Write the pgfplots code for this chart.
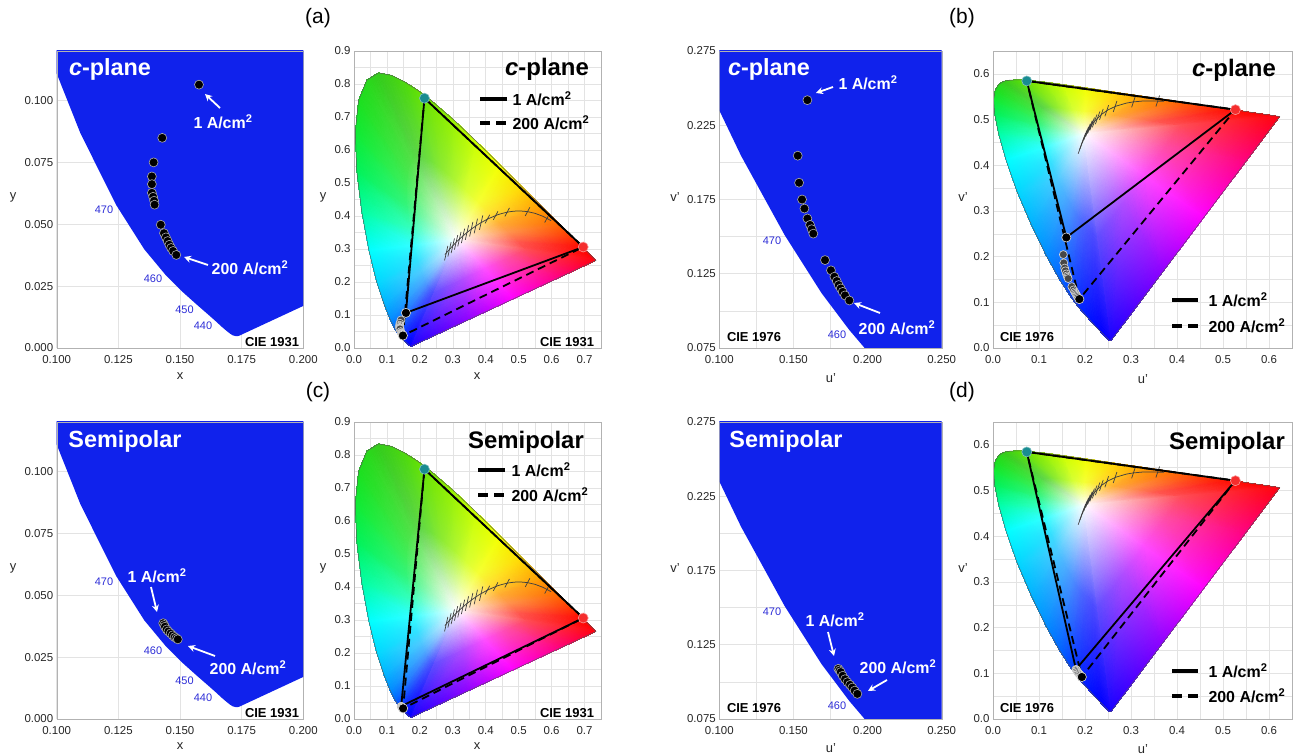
\documentclass[border=0pt]{standalone}
\usepackage{fontspec}
\setmainfont{Liberation Sans}
\usepackage{pgfplots}
\pgfplotsset{compat=1.18}
\usepackage{pgfplotstable}
\usetikzlibrary{arrows.meta}

\newcommand{\fsz}[1]{\fontsize{#1}{#1}\selectfont}
\definecolor{zblue}{RGB}{16,34,236}
\definecolor{tealG}{RGB}{25,140,145}
\definecolor{redR}{RGB}{245,45,45}
\definecolor{wlblue}{RGB}{45,45,215}

% ---------- gamut vertices (CIE 1931 xy): white point, spectral locus + purple line, inner ring
\pgfplotstableread{
x y c
0.3127 0.3290 rgb=1,1,1
0.1741 0.0050 rgb=0.1,0,1
0.1714 0.0051 rgb=0.05,0,1
0.1644 0.0109 rgb=0,0,1
0.1566 0.0177 rgb=0,0.05,1
0.1440 0.0297 rgb=0,0.15,1
0.1355 0.0399 rgb=0,0.25,1
0.1241 0.0578 rgb=0,0.4,1
0.1096 0.0868 rgb=0,0.55,1
0.0913 0.1327 rgb=0,0.7,1
0.0687 0.2007 rgb=0,0.85,1
0.0454 0.2950 rgb=0,1,1
0.0235 0.4127 rgb=0,1,0.65
0.0082 0.5384 rgb=0,0.95,0.35
0.0039 0.6548 rgb=0.05,0.92,0.2
0.0139 0.7502 rgb=0.1,0.88,0.12
0.0389 0.8120 rgb=0.15,0.85,0.1
0.0743 0.8338 rgb=0.2,0.8,0.1
0.1142 0.8262 rgb=0.25,0.82,0.08
0.1547 0.8059 rgb=0.3,0.85,0.05
0.1929 0.7816 rgb=0.38,0.88,0.02
0.2296 0.7543 rgb=0.45,0.9,0
0.3016 0.6923 rgb=0.6,0.95,0
0.3731 0.6245 rgb=0.8,1,0
0.4441 0.5547 rgb=0.95,1,0
0.5125 0.4866 rgb=1,0.85,0
0.5752 0.4242 rgb=1,0.6,0
0.6270 0.3725 rgb=1,0.4,0
0.6658 0.3340 rgb=1,0.2,0
0.6915 0.3083 rgb=1,0.05,0
0.7190 0.2809 rgb=1,0,0
0.7347 0.2653 rgb=1,0,0.05
0.6226 0.2132 rgb=1,0,0.5
0.4824 0.1482 rgb=1,0,1
0.3423 0.0831 rgb=0.55,0,1
0.2434 0.1670 rgb=0.37,0.3,1
0.2421 0.1671 rgb=0.335,0.3,1
0.2386 0.1700 rgb=0.3,0.3,1
0.2347 0.1734 rgb=0.3,0.335,1
0.2284 0.1794 rgb=0.3,0.405,1
0.2241 0.1845 rgb=0.3,0.475,1
0.2184 0.1934 rgb=0.3,0.58,1
0.2112 0.2079 rgb=0.3,0.685,1
0.2020 0.2309 rgb=0.3,0.79,1
0.1907 0.2649 rgb=0.2,0.88,1
0.1791 0.3120 rgb=0.2,1,1
0.1681 0.3709 rgb=0.2,1,0.72
0.1605 0.4337 rgb=0.2,0.96,0.48
0.1583 0.4919 rgb=0.24,0.936,0.36
0.1633 0.5396 rgb=0.28,0.904,0.296
0.1758 0.5705 rgb=0.32,0.88,0.28
0.1935 0.5814 rgb=0.36,0.84,0.28
0.2135 0.5776 rgb=0.4,0.856,0.264
0.2337 0.5675 rgb=0.44,0.88,0.24
0.2528 0.5553 rgb=0.504,0.904,0.216
0.2712 0.5417 rgb=0.56,0.92,0.2
0.3072 0.5107 rgb=0.68,0.96,0.2
0.3429 0.4768 rgb=0.84,1,0.2
0.3784 0.4419 rgb=0.96,1,0.2
0.4126 0.4078 rgb=1,0.88,0.2
0.4440 0.3766 rgb=1,0.68,0.2
0.4699 0.3508 rgb=1,0.58,0.3
0.4893 0.3315 rgb=1,0.44,0.3
0.5021 0.3187 rgb=1,0.335,0.3
0.5159 0.3050 rgb=1,0.3,0.3
0.5237 0.2972 rgb=1,0.3,0.335
0.4677 0.2711 rgb=1,0.3,0.65
0.3976 0.2386 rgb=1,0.3,1
0.3275 0.2061 rgb=0.685,0.3,1
}\xyverts

% ---------- gamut vertices (CIE 1976 u'v')
\pgfplotstableread{
x y c
0.1978 0.4683 rgb=1,1,1
0.2568 0.0166 rgb=0.1,0,1
0.2522 0.0169 rgb=0.05,0,1
0.2347 0.0350 rgb=0,0,1
0.2161 0.0549 rgb=0,0.05,1
0.1877 0.0871 rgb=0,0.15,1
0.1690 0.1119 rgb=0,0.25,1
0.1441 0.1510 rgb=0,0.4,1
0.1147 0.2044 rgb=0,0.55,1
0.0828 0.2708 rgb=0,0.7,1
0.0521 0.3427 rgb=0,0.85,1
0.0282 0.4117 rgb=0,1,1
0.0119 0.4698 rgb=0,1,0.65
0.0035 0.5131 rgb=0,0.95,0.35
0.0014 0.5432 rgb=0.05,0.92,0.2
0.0046 0.5638 rgb=0.1,0.88,0.12
0.0123 0.5770 rgb=0.15,0.85,0.1
0.0231 0.5837 rgb=0.2,0.8,0.1
0.0360 0.5861 rgb=0.25,0.82,0.08
0.0501 0.5868 rgb=0.3,0.85,0.05
0.0643 0.5865 rgb=0.38,0.88,0.02
0.0792 0.5856 rgb=0.45,0.9,0
0.1127 0.5821 rgb=0.6,0.95,0
0.1531 0.5766 rgb=0.8,1,0
0.2026 0.5694 rgb=0.95,1,0
0.2623 0.5604 rgb=1,0.85,0
0.3315 0.5501 rgb=1,0.6,0
0.4035 0.5393 rgb=1,0.4,0
0.4692 0.5296 rgb=1,0.2,0
0.5203 0.5219 rgb=1,0.05,0
0.5830 0.5125 rgb=1,0,0
0.6234 0.5065 rgb=1,0,0.05
0.5501 0.4085 rgb=1,0,0.5
0.4584 0.2860 rgb=1,0,1
0.3668 0.1636 rgb=0.55,0,1
0.2273 0.2425 rgb=0.37,0.3,1
0.2250 0.2426 rgb=0.335,0.3,1
0.2163 0.2517 rgb=0.3,0.3,1
0.2070 0.2616 rgb=0.3,0.335,1
0.1928 0.2777 rgb=0.3,0.405,1
0.1834 0.2901 rgb=0.3,0.475,1
0.1710 0.3097 rgb=0.3,0.58,1
0.1563 0.3364 rgb=0.3,0.685,1
0.1403 0.3696 rgb=0.3,0.79,1
0.1250 0.4055 rgb=0.2,0.88,1
0.1130 0.4400 rgb=0.2,1,1
0.1049 0.4691 rgb=0.2,1,0.72
0.1007 0.4907 rgb=0.2,0.96,0.48
0.0996 0.5058 rgb=0.24,0.936,0.36
0.1012 0.5161 rgb=0.28,0.904,0.296
0.1051 0.5227 rgb=0.32,0.88,0.28
0.1105 0.5260 rgb=0.36,0.84,0.28
0.1169 0.5272 rgb=0.4,0.856,0.264
0.1240 0.5276 rgb=0.44,0.88,0.24
0.1311 0.5274 rgb=0.504,0.904,0.216
0.1385 0.5270 rgb=0.56,0.92,0.2
0.1553 0.5252 rgb=0.68,0.96,0.2
0.1755 0.5225 rgb=0.84,1,0.2
0.2002 0.5189 rgb=0.96,1,0.2
0.2301 0.5144 rgb=1,0.88,0.2
0.2647 0.5092 rgb=1,0.68,0.2
0.3007 0.5038 rgb=1,0.58,0.3
0.3335 0.4990 rgb=1,0.44,0.3
0.3591 0.4951 rgb=1,0.335,0.3
0.3904 0.4904 rgb=1,0.3,0.3
0.4106 0.4874 rgb=1,0.3,0.335
0.3740 0.4384 rgb=1,0.3,0.65
0.3281 0.3772 rgb=1,0.3,1
0.2823 0.3160 rgb=0.685,0.3,1
}\uvverts

% ---------- locus outlines
\pgfplotstableread{
x y
0.1741 0.0050
0.1714 0.0051
0.1644 0.0109
0.1566 0.0177
0.1440 0.0297
0.1355 0.0399
0.1241 0.0578
0.1096 0.0868
0.0913 0.1327
0.0687 0.2007
0.0454 0.2950
0.0235 0.4127
0.0082 0.5384
0.0039 0.6548
0.0139 0.7502
0.0389 0.8120
0.0743 0.8338
0.1142 0.8262
0.1547 0.8059
0.1929 0.7816
0.2296 0.7543
0.3016 0.6923
0.3731 0.6245
0.4441 0.5547
0.5125 0.4866
0.5752 0.4242
0.6270 0.3725
0.6658 0.3340
0.6915 0.3083
0.7190 0.2809
0.7347 0.2653
0.1741 0.0050
}\xyloc

\pgfplotstableread{
x y
0.2568 0.0166
0.2522 0.0169
0.2347 0.0350
0.2161 0.0549
0.1877 0.0871
0.1690 0.1119
0.1441 0.1510
0.1147 0.2044
0.0828 0.2708
0.0521 0.3427
0.0282 0.4117
0.0119 0.4698
0.0035 0.5131
0.0014 0.5432
0.0046 0.5638
0.0123 0.5770
0.0231 0.5837
0.0360 0.5861
0.0501 0.5868
0.0643 0.5865
0.0792 0.5856
0.1127 0.5821
0.1531 0.5766
0.2026 0.5694
0.2623 0.5604
0.3315 0.5501
0.4035 0.5393
0.4692 0.5296
0.5203 0.5219
0.5830 0.5125
0.6234 0.5065
0.2568 0.0166
}\uvloc

% ---------- zoomed blue region outlines
\pgfplotstableread{
x y
0.5 0.5
0.5 0.1563
0.3 0.0635
0.2 0.0170
0.1741 0.0050
0.1738 0.0049
0.1733 0.0048
0.1726 0.0048
0.1714 0.0051
0.1703 0.0058
0.1689 0.0069
0.1669 0.0086
0.1644 0.0109
0.1611 0.0138
0.1566 0.0177
0.1510 0.0227
0.1440 0.0297
0.1355 0.0399
0.1241 0.0578
0.1096 0.0868
0.0913 0.1327
0.0687 0.2007
0.0 0.5
}\xyzoom

\pgfplotstableread{
x y
0.6 0.7
0.6 0.4752
0.4 0.2079
0.3 0.0743
0.2568 0.0166
0.2557 0.0159
0.2522 0.0169
0.2496 0.0191
0.2461 0.0226
0.2411 0.0279
0.2347 0.0350
0.2266 0.0437
0.2161 0.0549
0.2033 0.0688
0.1877 0.0871
0.1690 0.1119
0.1441 0.1510
0.1147 0.2044
0.0828 0.2708
0.0521 0.3427
0.0282 0.4117
0.0 0.7
}\uvzoom

% ---------- Planckian locus and isotherm ticks
\pgfplotstableread{
x y
0.2760 0.2830
0.2807 0.2883
0.2869 0.2956
0.2952 0.3048
0.3064 0.3166
0.3135 0.3237
0.3221 0.3318
0.3325 0.3411
0.3451 0.3516
0.3608 0.3636
0.3805 0.3768
0.4053 0.3907
0.4369 0.4041
0.4525 0.4085
0.4685 0.4123
0.4862 0.4147
0.5056 0.4152
0.5267 0.4133
0.5496 0.4081
0.5732 0.3993
0.5985 0.3858
}\planckxy

\pgfplotstableread{
x y
0.275 0.2655
0.285 0.3095
nan nan
0.285 0.2770
0.295 0.3210
nan nan
0.295 0.2879
0.305 0.3319
nan nan
0.305 0.2982
0.315 0.3422
nan nan
0.315 0.3078
0.325 0.3518
nan nan
0.326 0.3178
0.336 0.3618
nan nan
0.338 0.3278
0.348 0.3718
nan nan
0.351 0.3379
0.361 0.3819
nan nan
0.365 0.3478
0.375 0.3918
nan nan
0.381 0.3579
0.391 0.4019
nan nan
0.398 0.3776
0.412 0.4036
nan nan
0.423 0.3882
0.437 0.4142
nan nan
0.458 0.3985
0.472 0.4245
nan nan
0.520 0.4003
0.534 0.4263
nan nan
0.579 0.3801
0.593 0.4061
}\isoxy

\pgfplotstableread{
x y
0.1889 0.4358
0.1904 0.4399
0.1946 0.4521
0.2004 0.4656
0.2069 0.4776
0.2173 0.4927
0.2357 0.5113
0.2505 0.5214
0.2673 0.5293
0.2901 0.5360
0.3051 0.5386
0.3234 0.5403
0.3450 0.5408
0.3722 0.5398
}\planckuv

\pgfplotstableread{
x y
0.1852 0.4253
0.1952 0.4533
nan nan
0.1881 0.4339
0.1981 0.4619
nan nan
0.1911 0.4418
0.2011 0.4698
nan nan
0.1943 0.4491
0.2043 0.4771
nan nan
0.1976 0.4558
0.2076 0.4838
nan nan
0.2014 0.4627
0.2114 0.4907
nan nan
0.2057 0.4695
0.2157 0.4975
nan nan
0.2105 0.4763
0.2205 0.5043
nan nan
0.2160 0.4829
0.2260 0.5109
nan nan
0.2225 0.4898
0.2325 0.5178
nan nan
0.2316 0.4992
0.2396 0.5232
nan nan
0.2433 0.5072
0.2513 0.5312
nan nan
0.2614 0.5165
0.2694 0.5405
nan nan
0.3013 0.5267
0.3093 0.5507
nan nan
0.3541 0.5285
0.3621 0.5525
}\isouv

% ---------- measured colour points
\pgfplotstableread{
x y
0.1577 0.1064
0.1428 0.0849
0.1393 0.0750
0.1386 0.0693
0.1386 0.0662
0.1386 0.0627
0.1391 0.0611
0.1395 0.0595
0.1397 0.0579
0.1422 0.0498
0.1435 0.0464
0.1443 0.0447
0.1450 0.0432
0.1457 0.0417
0.1464 0.0404
0.1472 0.0392
0.1485 0.0376
}\cpxy

\pgfplotstableread{
x y
0.1594 0.2419
0.1529 0.2045
0.1538 0.1863
0.1558 0.1750
0.1574 0.1689
0.1594 0.1622
0.1612 0.1579
0.1623 0.1550
0.1634 0.1520
0.1713 0.1342
0.1753 0.1273
0.1776 0.1230
0.1792 0.1201
0.1805 0.1174
0.1819 0.1151
0.1832 0.1128
0.1848 0.1104
0.1877 0.1070
}\cpuv

\pgfplotstableread{
x y
0.1432 0.0387
0.1436 0.0380
0.1439 0.0373
0.1446 0.0362
0.1453 0.0354
0.1462 0.0346
0.1470 0.0338
0.1478 0.0331
0.1485 0.0326
0.1491 0.0322
}\spxy

\pgfplotstableread{
x y
0.1803 0.1088
0.1811 0.1077
0.1819 0.1066
0.1832 0.1041
0.1848 0.1018
0.1864 0.0998
0.1882 0.0980
0.1897 0.0962
0.1913 0.0941
0.1931 0.0919
}\spuv

\pgfplotsset{
  base/.style={scale only axis, axis line style={gray!60}, major tick length=0pt, minor tick length=0pt,
    tick label style={font=\fsz{11.5}, text=black!85}, xticklabel style={yshift=-3.5bp},
    grid style={gray!22, line width=0.5bp},
    minor grid style={gray!22, line width=0.5bp}, clip=true, scaled ticks=false,
    /pgf/number format/assume math mode=true},
  zxy/.style={base, width=246.6bp, height=297bp, xmin=0.1, xmax=0.2, ymin=0, ymax=0.12,
    xtick={0.1,0.125,0.15,0.175,0.2}, xticklabels={0.100,0.125,0.150,0.175,0.200},
    ytick={0,0.025,0.05,0.075,0.1}, yticklabels={0.000,0.025,0.050,0.075,0.100}, grid=major},
  fxy/.style={base, width=247bp, height=297bp, xmin=0, xmax=0.75, ymin=0, ymax=0.9,
    xtick={0,0.1,0.2,0.3,0.4,0.5,0.6,0.7}, xticklabels={0.0,0.1,0.2,0.3,0.4,0.5,0.6,0.7},
    ytick={0,0.1,0.2,0.3,0.4,0.5,0.6,0.7,0.8,0.9}, yticklabels={0.0,0.1,0.2,0.3,0.4,0.5,0.6,0.7,0.8,0.9},
    minor xtick={0.05,0.15,0.25,0.35,0.45,0.55,0.65}, minor ytick={0.05,0.15,0.25,0.35,0.45,0.55,0.65,0.75,0.85},
    grid=both},
  zuv/.style={base, width=222.4bp, height=297bp, xmin=0.1, xmax=0.25, ymin=0.075, ymax=0.275,
    xtick={0.1,0.15,0.2,0.25}, xticklabels={0.100,0.150,0.200,0.250}, minor xtick={0.125,0.175,0.225},
    ytick={0.075,0.125,0.175,0.225,0.275}, yticklabels={0.075,0.125,0.175,0.225,0.275},
    minor ytick={0.1,0.15,0.2,0.25}, grid=both},
  fuv/.style={base, width=299bp, height=297bp, xmin=0, xmax=0.65, ymin=0, ymax=0.65,
    xtick={0,0.1,0.2,0.3,0.4,0.5,0.6}, xticklabels={0.0,0.1,0.2,0.3,0.4,0.5,0.6},
    ytick={0,0.1,0.2,0.3,0.4,0.5,0.6}, yticklabels={0.0,0.1,0.2,0.3,0.4,0.5,0.6},
    minor xtick={0.05,0.15,0.25,0.35,0.45,0.55}, minor ytick={0.05,0.15,0.25,0.35,0.45,0.55},
    grid=both},
  gamut/.style={patch, shader=interp, mesh/color input=explicit, point meta=explicit symbolic,
    table/row sep=\\,
    patch table={0 0 0\\0 35 36\\35 1 2\\35 2 36\\0 36 37\\36 2 3\\36 3 37\\0 37 38\\37 3 4\\37 4 38\\%
0 38 39\\38 4 5\\38 5 39\\0 39 40\\39 5 6\\39 6 40\\0 40 41\\40 6 7\\40 7 41\\0 41 42\\41 7 8\\41 8 42\\%
0 42 43\\42 8 9\\42 9 43\\0 43 44\\43 9 10\\43 10 44\\0 44 45\\44 10 11\\44 11 45\\0 45 46\\45 11 12\\45 12 46\\%
0 46 47\\46 12 13\\46 13 47\\0 47 48\\47 13 14\\47 14 48\\0 48 49\\48 14 15\\48 15 49\\0 49 50\\49 15 16\\49 16 50\\%
0 50 51\\50 16 17\\50 17 51\\0 51 52\\51 17 18\\51 18 52\\0 52 53\\52 18 19\\52 19 53\\0 53 54\\53 19 20\\53 20 54\\%
0 54 55\\54 20 21\\54 21 55\\0 55 56\\55 21 22\\55 22 56\\0 56 57\\56 22 23\\56 23 57\\0 57 58\\57 23 24\\57 24 58\\%
0 58 59\\58 24 25\\58 25 59\\0 59 60\\59 25 26\\59 26 60\\0 60 61\\60 26 27\\60 27 61\\0 61 62\\61 27 28\\61 28 62\\%
0 62 63\\62 28 29\\62 29 63\\0 63 64\\63 29 30\\63 30 64\\0 64 65\\64 30 31\\64 31 65\\0 65 66\\65 31 32\\65 32 66\\%
0 66 67\\66 32 33\\66 33 67\\0 67 68\\67 33 34\\67 34 68\\0 68 35\\68 34 1\\68 1 35\\}},
  ptz/.style={only marks, mark=*, mark size=4.5bp, mark options={fill=black, draw=gray!65, line width=0.6bp}},
  ptf/.style={only marks, mark=*, mark size=4bp, mark options={fill=black!72, draw=white!85!black, line width=0.6bp}},
  ptend/.style={only marks, mark=*, mark size=4.6bp, mark options={fill=black, draw=white!85!black, line width=0.6bp}},
  triS/.style={black, line width=1.8bp},
  triD/.style={black, line width=1.8bp, dash pattern=on 8bp off 5bp},
  outl/.style={gray!70!black, line width=0.5bp},
  pl/.style={gray!50!black, line width=0.75bp},
  iso/.style={gray!50!black, line width=0.7bp, unbounded coords=jump},
  gdot/.style={only marks, mark=*, mark size=5bp, mark options={fill=tealG, draw=tealG!55!white, line width=0.6bp}},
  rdot/.style={only marks, mark=*, mark size=5bp, mark options={fill=redR, draw=redR!50!white, line width=0.6bp}},
}

\begin{document}
\begin{tikzpicture}
\useasboundingbox (0,0) rectangle (1296bp,754bp);

% ================= (a) left: CIE 1931 zoom, c-plane
\begin{axis}[zxy, at={(56.7bp,406bp)}, anchor=south west]
\addplot[fill=zblue, draw=none] table {\xyzoom};
\addplot[ptz] table {\cpxy};
\draw[gray!60] (rel axis cs:0,0) rectangle (rel axis cs:1,1);
\end{axis}

% ================= (a) right: CIE 1931 full, c-plane
\begin{axis}[fxy, at={(354bp,406bp)}, anchor=south west]
\addplot[gamut] table[x=x, y=y, meta=c] {\xyverts};
\addplot[outl] table {\xyloc};
\addplot[pl] table {\planckxy};
\addplot[iso] table {\isoxy};
\addplot[triS] coordinates {(0.214,0.757) (0.696,0.306) (0.1577,0.1064) (0.214,0.757)};
\addplot[triD] coordinates {(0.214,0.757) (0.696,0.306) (0.1485,0.0376) (0.214,0.757)};
\addplot[ptf] table {\cpxy};
\addplot[ptend] coordinates {(0.1577,0.1064) (0.1485,0.0376)};
\addplot[gdot] coordinates {(0.214,0.757)};
\addplot[rdot] coordinates {(0.696,0.306)};
\draw[gray!60] (rel axis cs:0,0) rectangle (rel axis cs:1,1);
\end{axis}

% ================= (b) left: CIE 1976 zoom, c-plane
\begin{axis}[zuv, at={(719.3bp,406bp)}, anchor=south west]
\addplot[fill=zblue, draw=none] table {\uvzoom};
\addplot[ptz] table {\cpuv};
\draw[gray!60] (rel axis cs:0,0) rectangle (rel axis cs:1,1);
\end{axis}

% ================= (b) right: CIE 1976 full, c-plane
\begin{axis}[fuv, at={(993bp,406bp)}, anchor=south west]
\addplot[gamut] table[x=x, y=y, meta=c] {\uvverts};
\addplot[outl] table {\uvloc};
\addplot[pl] table {\planckuv};
\addplot[iso] table {\isouv};
\addplot[triS] coordinates {(0.0734,0.5845) (0.527,0.5216) (0.1594,0.2419) (0.0734,0.5845)};
\addplot[triD] coordinates {(0.0734,0.5845) (0.527,0.5216) (0.1877,0.1070) (0.0734,0.5845)};
\addplot[ptf] table {\cpuv};
\addplot[ptend] coordinates {(0.1594,0.2419) (0.1877,0.1070)};
\addplot[gdot] coordinates {(0.0734,0.5845)};
\addplot[rdot] coordinates {(0.527,0.5216)};
\draw[gray!60] (rel axis cs:0,0) rectangle (rel axis cs:1,1);
\end{axis}

% ================= (c) left: CIE 1931 zoom, semipolar
\begin{axis}[zxy, at={(56.7bp,35bp)}, anchor=south west]
\addplot[fill=zblue, draw=none] table {\xyzoom};
\addplot[ptz] table {\spxy};
\draw[gray!60] (rel axis cs:0,0) rectangle (rel axis cs:1,1);
\end{axis}

% ================= (c) right: CIE 1931 full, semipolar
\begin{axis}[fxy, at={(354bp,35bp)}, anchor=south west]
\addplot[gamut] table[x=x, y=y, meta=c] {\xyverts};
\addplot[outl] table {\xyloc};
\addplot[pl] table {\planckxy};
\addplot[iso] table {\isoxy};
\addplot[triS] coordinates {(0.214,0.757) (0.696,0.306) (0.1432,0.0387) (0.214,0.757)};
\addplot[triD] coordinates {(0.214,0.757) (0.696,0.306) (0.1491,0.0322) (0.214,0.757)};
\addplot[ptf] table {\spxy};
\addplot[ptend] coordinates {(0.1491,0.0322)};
\addplot[gdot] coordinates {(0.214,0.757)};
\addplot[rdot] coordinates {(0.696,0.306)};
\draw[gray!60] (rel axis cs:0,0) rectangle (rel axis cs:1,1);
\end{axis}

% ================= (d) left: CIE 1976 zoom, semipolar
\begin{axis}[zuv, at={(719.3bp,35bp)}, anchor=south west]
\addplot[fill=zblue, draw=none] table {\uvzoom};
\addplot[ptz] table {\spuv};
\draw[gray!60] (rel axis cs:0,0) rectangle (rel axis cs:1,1);
\end{axis}

% ================= (d) right: CIE 1976 full, semipolar
\begin{axis}[fuv, at={(993bp,35bp)}, anchor=south west]
\addplot[gamut] table[x=x, y=y, meta=c] {\uvverts};
\addplot[outl] table {\uvloc};
\addplot[pl] table {\planckuv};
\addplot[iso] table {\isouv};
\addplot[triS] coordinates {(0.0734,0.5845) (0.527,0.5216) (0.1803,0.1088) (0.0734,0.5845)};
\addplot[triD] coordinates {(0.0734,0.5845) (0.527,0.5216) (0.1931,0.0919) (0.0734,0.5845)};
\addplot[ptf] table {\spuv};
\addplot[ptend] coordinates {(0.1931,0.0919)};
\addplot[gdot] coordinates {(0.0734,0.5845)};
\addplot[rdot] coordinates {(0.527,0.5216)};
\draw[gray!60] (rel axis cs:0,0) rectangle (rel axis cs:1,1);
\end{axis}

% ================= texts (pixel coordinates, y downwards)
\begin{scope}[x=1bp, y=-1bp, shift={(0bp,754bp)}]
\tikzset{
  plab/.style={font=\fsz{21}},
  alab/.style={font=\fsz{13}, text=black!85},
  wt/.style={font=\bfseries\fsz{23.5}, text=white},
  bt/.style={font=\bfseries\fsz{24}, text=black},
  cie/.style={font=\bfseries\fsz{13}, text=black},
  wl/.style={font=\fsz{11}, text=wlblue},
  ann/.style={font=\bfseries\fsz{16}, text=white},
  arr/.style={white, line width=1.8bp, -{Stealth[length=7bp, width=7bp]}},
  leg/.style={font=\bfseries\fsz{16}, text=black, anchor=west},
  legS/.style={black, line width=3.5bp},
  legD/.style={black, line width=3.5bp, dash pattern=on 10bp off 6bp},
}
% panel labels
\node[plab] at (318,18) {(a)};
\node[plab] at (962,18) {(b)};
\node[plab] at (318,392) {(c)};
\node[plab] at (962,392) {(d)};
% axis labels
\node[alab] at (13,197) {y};   \node[alab] at (180,376) {x};
\node[alab] at (323,197) {y};  \node[alab] at (477,376) {x};
\node[alab] at (675,197) {v'}; \node[alab] at (831,378) {u'};
\node[alab] at (963,197) {v'}; \node[alab] at (1143,379) {u'};
\node[alab] at (13,568) {y};   \node[alab] at (180,746) {x};
\node[alab] at (323,568) {y};  \node[alab] at (477,746) {x};
\node[alab] at (675,568) {v'}; \node[alab] at (831,748) {u'};
\node[alab] at (963,568) {v'}; \node[alab] at (1143,749) {u'};
% titles
\node[wt] at (110,69) {\textit{c}-plane};
\node[bt] at (547,69) {\textit{c}-plane};
\node[wt] at (769,69) {\textit{c}-plane};
\node[bt] at (1234,70) {\textit{c}-plane};
\node[wt] at (125,441) {Semipolar};
\node[bt] at (526,442) {Semipolar};
\node[wt] at (786,441) {Semipolar};
\node[bt] at (1227,443) {Semipolar};
% CIE labels
\node[cie] at (272,342) {CIE 1931};
\node[cie] at (567,342) {CIE 1931};
\node[cie] at (754,337) {CIE 1976};
\node[cie] at (1027,337) {CIE 1976};
\node[cie] at (272,713) {CIE 1931};
\node[cie] at (567,713) {CIE 1931};
\node[cie] at (754,708) {CIE 1976};
\node[cie] at (1027,708) {CIE 1976};
% wavelength labels
\node[wl] at (104,210) {470}; \node[wl] at (153,279) {460};
\node[wl] at (184.5,310) {450}; \node[wl] at (203,326) {440};
\node[wl] at (104,582) {470}; \node[wl] at (153,651) {460};
\node[wl] at (184.5,681) {450}; \node[wl] at (203,698) {440};
\node[wl] at (772,241) {470}; \node[wl] at (837,335) {460};
\node[wl] at (772,612) {470}; \node[wl] at (837,706) {460};
% annotations in zoomed panels
\node[ann] at (223,122) {1 A/cm\textsuperscript{2}};
\draw[arr] (220,108) -- (205,94);
\node[ann] at (250,268) {200 A/cm\textsuperscript{2}};
\draw[arr] (208,265) -- (184,257);
\node[ann] at (868,83) {1 A/cm\textsuperscript{2}};
\draw[arr] (833,87) -- (816,93);
\node[ann] at (897,328) {200 A/cm\textsuperscript{2}};
\draw[arr] (880,313) -- (854,303);
\node[ann] at (157,576) {1 A/cm\textsuperscript{2}};
\draw[arr] (151,587) -- (157,612);
\node[ann] at (248,668) {200 A/cm\textsuperscript{2}};
\draw[arr] (215,656) -- (188,646);
\node[ann] at (835,620) {1 A/cm\textsuperscript{2}};
\draw[arr] (828,632) -- (834,656);
\node[ann] at (898,667) {200 A/cm\textsuperscript{2}};
\draw[arr] (887,680) -- (868,691);
% legends
\draw[legS] (480,99) -- (507,99);  \node[leg] at (509,99) {1 A/cm\textsuperscript{2}};
\draw[legD] (480,123) -- (507,123); \node[leg] at (509,123) {200 A/cm\textsuperscript{2}};
\draw[legS] (478,470) -- (505,470);  \node[leg] at (508,470) {1 A/cm\textsuperscript{2}};
\draw[legD] (478,495) -- (505,495); \node[leg] at (508,495) {200 A/cm\textsuperscript{2}};
\draw[legS] (1172,300) -- (1198,300);  \node[leg] at (1205,300) {1 A/cm\textsuperscript{2}};
\draw[legD] (1172,326) -- (1198,326); \node[leg] at (1205,326) {200 A/cm\textsuperscript{2}};
\draw[legS] (1172,671) -- (1198,671);  \node[leg] at (1205,671) {1 A/cm\textsuperscript{2}};
\draw[legD] (1172,696) -- (1198,696); \node[leg] at (1205,696) {200 A/cm\textsuperscript{2}};
\end{scope}
\end{tikzpicture}
\end{document}
